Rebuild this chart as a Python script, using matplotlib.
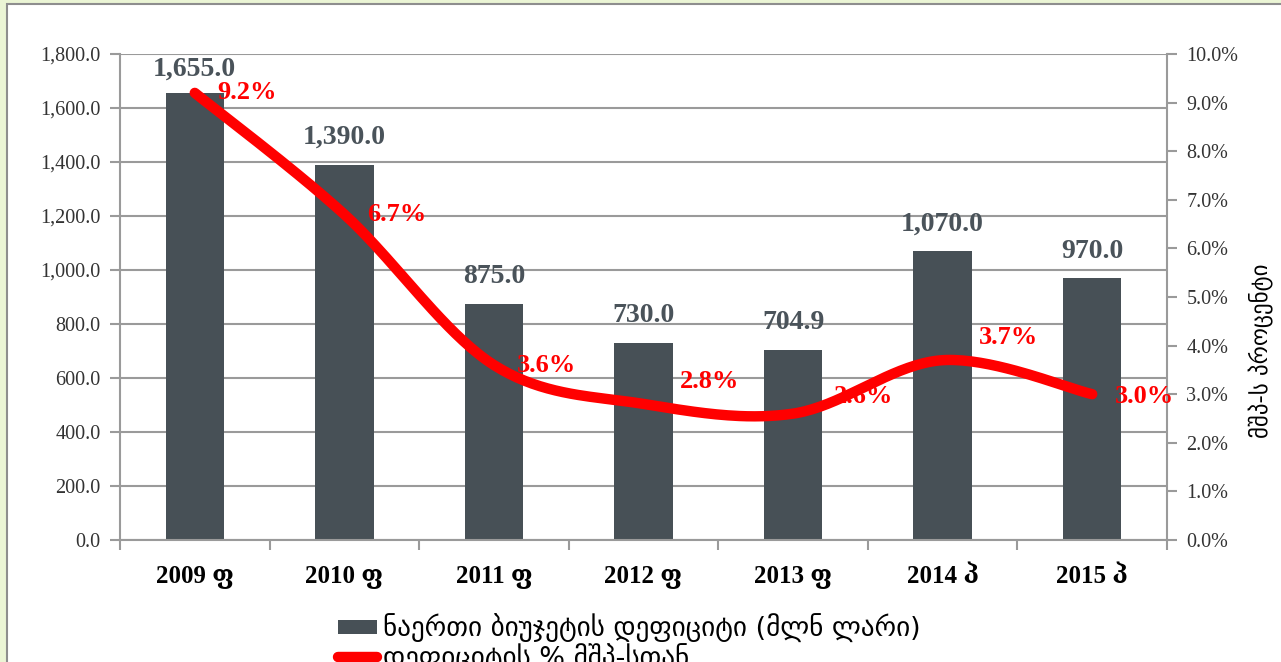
import numpy as np
import matplotlib
matplotlib.use("Agg")
import matplotlib.pyplot as plt
from matplotlib.patches import Rectangle, Patch
from matplotlib.lines import Line2D

categories = ["2009 ფ", "2010 ფ", "2011 ფ", "2012 ფ", "2013 ფ", "2014 პ", "2015 პ"]
deficit = [1655.0, 1390.0, 875.0, 730.0, 704.9, 1070.0, 970.0]
pct_gdp = [9.2, 6.7, 3.6, 2.8, 2.6, 3.7, 3.0]
bar_label = "ნაერთი ბიუჯეტის დეფიციტი (მლნ ლარი)"
line_label = "დეფიციტის % მშპ-სთან"
right_title = "მშპ-ს პროცენტი"

# label offsets (points) for the percentage labels, as placed in the reference
pct_dx = [16.5, 16.5, 16.5, 26, 29.5, 26, 16.5]
pct_dy = [0, 0, 0, 16.5, 12, 16.5, -1.5]

SERIF = ["Liberation Serif", "DejaVu Serif", "DejaVu Sans"]
GEO = ["DejaVu Sans"]
BAR_C = "#475056"
GRID_C = "#9a9a9a"

W, H = 1281, 662
fig = plt.figure(figsize=(W / 100, H / 100), dpi=100)
fig.patch.set_facecolor("#ebf5d5")
fig.patches.append(Rectangle((7 / W, -0.01), 1.0, 1 - 4 / H + 0.01, transform=fig.transFigure,
                             facecolor="white", edgecolor="#8e8e8e", linewidth=1.5, zorder=-5))

ax = fig.add_axes([120 / W, 1 - 540 / H, (1167 - 120) / W, (540 - 54) / H])
ax.set_facecolor("none")
x = np.arange(len(categories))
ax.bar(x, deficit, width=0.39, color=BAR_C, zorder=2)
ax.set_xlim(-0.5, len(categories) - 0.5)
ax.set_ylim(0, 1800)
ax.set_yticks(np.arange(0, 1801, 200))
ax.set_yticklabels([f"{v:,.1f}" for v in np.arange(0, 1801, 200)], family=SERIF, fontsize=14.5, color="#333333")
ax.yaxis.grid(True, color=GRID_C, linewidth=1.5, zorder=0)
ax.set_axisbelow(True)
ax.set_xticks(x)
ax.set_xticklabels(categories, family=SERIF, fontsize=18, fontweight="bold", color="black")
ax.tick_params(axis="x", which="major", length=0, pad=18)
ax.set_xticks(np.arange(-0.5, len(categories)), minor=True)
ax.tick_params(axis="x", which="minor", length=7, width=1.5, color=GRID_C, direction="out")
ax.tick_params(axis="y", length=7, width=1.5, color=GRID_C, pad=7)
for s in ["top", "right"]:
    ax.spines[s].set_visible(False)
for s in ["left", "bottom"]:
    ax.spines[s].set_color(GRID_C)
    ax.spines[s].set_linewidth(1.5)

for xi, v in zip(x, deficit):
    off = 8 if v > 1600 else 10.5
    ax.annotate(f"{v:,.1f}", (xi, v), xytext=(0, off), textcoords="offset points",
                ha="center", va="bottom", family=SERIF, fontsize=20, fontweight="bold",
                color="#4a535a", zorder=5)

ax2 = ax.twinx()
ax2.set_ylim(0, 10)
ax2.set_yticks(np.arange(0, 10.01, 1))
ax2.set_yticklabels([f"{v:.1f}%" for v in np.arange(0, 10.01, 1)], family=SERIF, fontsize=14.5, color="#333333")
ax2.tick_params(axis="y", length=7, width=1.5, color=GRID_C, pad=7)
for s in ["top", "left", "bottom"]:
    ax2.spines[s].set_visible(False)
ax2.spines["right"].set_color(GRID_C)
ax2.spines["right"].set_linewidth(1.5)

# Smoothed line (Catmull-Rom in screen-proportional units, like Excel's smoothing)
sx, sy = 149.6, 48.6
P = np.column_stack([x * sx, np.array(pct_gdp) * sy])
Pext = np.vstack([P[0], P, P[-1]])
pts = []
for i in range(len(P) - 1):
    p0, p1, p2, p3 = Pext[i], Pext[i + 1], Pext[i + 2], Pext[i + 3]
    c1 = p1 + (p2 - p0) / 6
    c2 = p2 - (p3 - p1) / 6
    t = np.linspace(0, 1, 40)[:, None]
    seg = (1 - t) ** 3 * p1 + 3 * (1 - t) ** 2 * t * c1 + 3 * (1 - t) * t ** 2 * c2 + t ** 3 * p2
    pts.append(seg if i == 0 else seg[1:])
curve = np.vstack(pts)
ax2.plot(curve[:, 0] / sx, curve[:, 1] / sy, color="#ff0000", linewidth=7.5,
         solid_capstyle="round", solid_joinstyle="round", zorder=4)

for xi, v, dx, dy in zip(x, pct_gdp, pct_dx, pct_dy):
    ax2.annotate(f"{v:.1f}%", (xi, v), xytext=(dx, dy), textcoords="offset points",
                 ha="left", va="center", family=SERIF, fontsize=19, fontweight="bold",
                 color="#ff0000", zorder=6)

fig.text(1262 / W, 1 - 351 / H, right_title, rotation=90, ha="center", va="center",
         family=GEO, fontsize=16.5, color="black")

handles = [Patch(facecolor=BAR_C, edgecolor="none"),
           Line2D([], [], color="#ff0000", linewidth=7.5, solid_capstyle="round")]
leg = fig.legend(handles, [bar_label, line_label], loc="upper left",
                 bbox_to_anchor=(327 / W, 1 - 603 / H), frameon=False,
                 prop={"family": GEO, "size": 19.5}, handlelength=1.45, handleheight=0.45,
                 handletextpad=0.2, labelspacing=0.0, borderaxespad=0)

fig.savefig("out.png", dpi=100, facecolor=fig.get_facecolor())
